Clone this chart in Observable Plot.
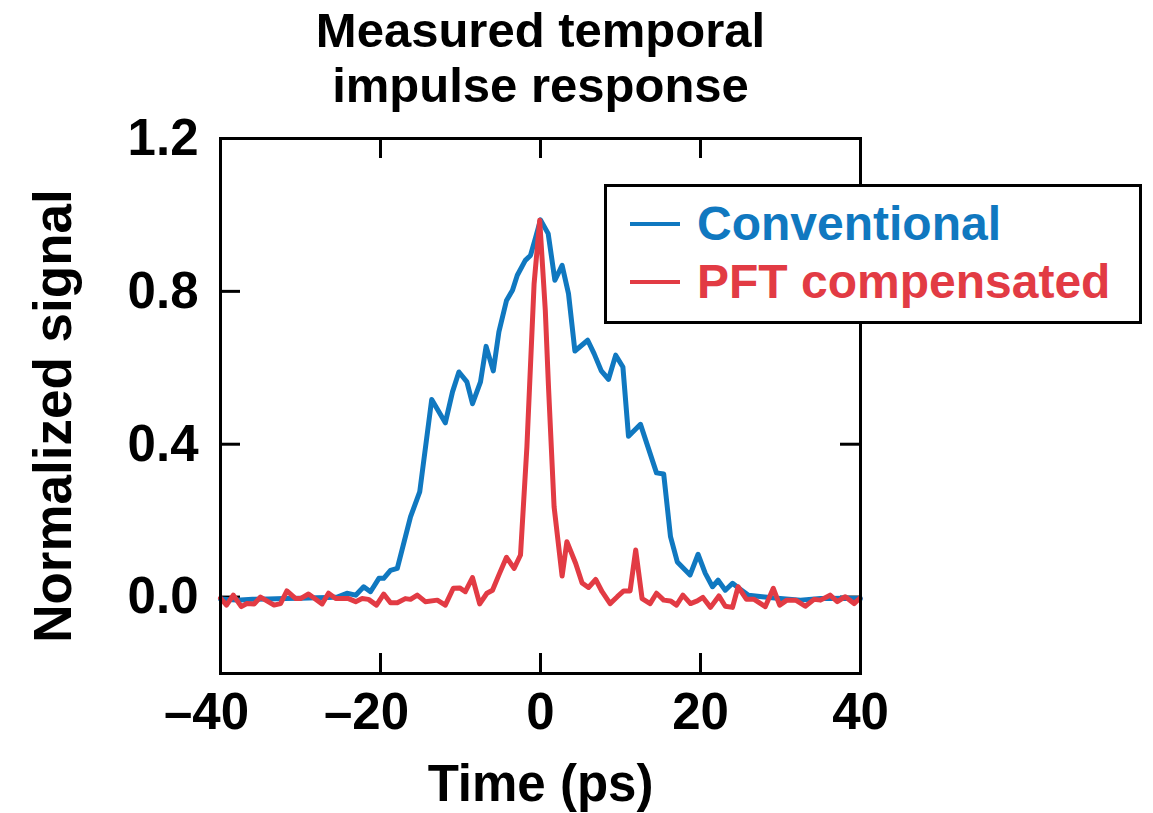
<!DOCTYPE html>
<html>
<head>
<meta charset="utf-8">
<script src="https://cdn.jsdelivr.net/npm/d3@7"></script>
<script src="https://cdn.jsdelivr.net/npm/@observablehq/plot@0.6"></script>
<style>
  html, body { margin: 0; padding: 0; background: #fff; }
  #wrap { position: relative; width: 1153px; height: 813px; font-family: "Liberation Sans", Arial, Helvetica, sans-serif; }
  #legend { position: absolute; left: 604px; top: 184px; }
</style>
</head>
<body>
<div id="wrap"></div>
<script>
// ---- data ----
const titleLines = ["Measured temporal", "impulse response"];
const xLabel = "Time (ps)";
const yLabel = "Normalized signal";
const seriesNames = ["Conventional", "PFT compensated"];
const seriesColors = ["#1078c0", "#e23b44"];
const xTicks = [-40, -20, 0, 20, 40];
const yTicks = [0.0, 0.4, 0.8, 1.2];

const convTime = [-40, -38, -36, -34, -32, -30, -28, -26.5, -25.4, -24.2, -23.1, -22.1, -21.25, -20.2, -19.6, -18.75, -17.9, -16.25, -15.1, -13.6, -11.9, -11.0, -10.2, -9.2, -8.5, -7.5, -6.8, -5.9, -5.2, -4.25, -3.5, -2.9, -1.9, -1.25, -0.6, 0, 0.96, 1.8, 2.7, 3.5, 4.3, 5.9, 6.7, 7.6, 8.5, 9.4, 10.3, 11.0, 12.5, 14.5, 15.4, 16.25, 17.1, 18.7, 19.7, 20.6, 21.5, 22.2, 23.1, 24.0, 24.8, 26.0, 27.7, 29.6, 32.5, 35, 38.3, 40];
const convSignal = [-0.005, -0.008, -0.006, -0.005, -0.004, -0.003, -0.002, -0.001, 0.0, 0.01, 0.005, 0.027, 0.014, 0.049, 0.049, 0.07, 0.075, 0.21, 0.275, 0.517, 0.456, 0.537, 0.589, 0.563, 0.506, 0.563, 0.656, 0.592, 0.694, 0.776, 0.803, 0.842, 0.881, 0.894, 0.942, 0.987, 0.951, 0.829, 0.868, 0.794, 0.644, 0.672, 0.637, 0.592, 0.570, 0.633, 0.602, 0.421, 0.452, 0.325, 0.322, 0.158, 0.092, 0.058, 0.112, 0.062, 0.027, 0.044, 0.018, 0.036, 0.023, 0.005, 0.001, -0.003, -0.008, -0.004, -0.003, -0.004];

const pftTime = [-40, -39.25, -38.4, -37.4, -36.7, -35.8, -35, -33.3, -32.5, -31.7, -30.6, -30, -29, -27.3, -26.5, -25.6, -24, -23.1, -22.3, -21.5, -20.5, -19.6, -18.75, -17.9, -16.9, -16.25, -15.4, -14.4, -12.9, -11.9, -10.9, -10.1, -9.4, -8.5, -7.6, -6.7, -6.0, -5.2, -4.25, -3.3, -2.5, -1.7, -0.8, -0.1, 0.6, 1.0, 1.7, 2.7, 3.3, 4.4, 5.2, 6.0, 6.9, 7.7, 8.7, 9.6, 10.4, 11.2, 11.9, 12.7, 13.7, 14.5, 15.4, 16.25, 17, 17.8, 18.75, 19.6, 20.3, 21.25, 22.3, 23.1, 24, 24.7, 25.75, 26.7, 28.1, 29.1, 29.9, 30.8, 31.9, 33.1, 34.2, 35, 36.2, 37.1, 38.1, 39.2, 39.9];
const pftSignal = [-0.003, -0.021, 0.005, -0.025, -0.017, -0.018, 0, -0.021, -0.017, 0.016, -0.004, -0.004, 0.008, -0.018, 0.01, -0.004, -0.004, -0.012, -0.004, -0.006, -0.021, 0.008, -0.015, -0.015, -0.004, -0.006, 0.005, -0.012, -0.008, -0.021, 0.023, 0.024, 0.014, 0.051, -0.018, 0.01, 0.018, 0.058, 0.104, 0.075, 0.11, 0.393, 0.82, 0.986, 0.75, 0.55, 0.236, 0.055, 0.145, 0.088, 0.037, 0.025, 0.046, 0.014, -0.017, 0.001, 0.016, 0.016, 0.123, -0.004, -0.017, 0.01, -0.008, -0.01, -0.021, 0.005, -0.017, -0.01, -0.001, -0.027, 0.003, -0.024, -0.027, 0.027, -0.006, -0.006, -0.025, 0.023, -0.021, -0.008, -0.008, -0.024, -0.006, -0.008, 0.005, -0.012, 0.001, -0.017, -0.003];

// ---- build ----
const conv = convTime.map((t, i) => ({t, v: convSignal[i], s: seriesNames[0]}));
const pft = pftTime.map((t, i) => ({t, v: pftSignal[i], s: seriesNames[1]}));

const W = 1153, H = 813;
const mL = 220, mR = 293, mT = 138, mB = 140;
const innerW = W - mL - mR, innerH = H - mT - mB;
const tickLen = 20;
const font = "Liberation Sans, Arial, Helvetica, sans-serif";
const fs = 51;
const titleFs = 49;
const sw = 3;
const fmtX = d => Math.abs(d).toString();
const fmtY = d3.format(".1f");

const plot = Plot.plot({
  width: W, height: H,
  marginLeft: mL, marginRight: mR, marginTop: mT, marginBottom: mB,
  style: {fontFamily: font, background: "white"},
  x: {domain: [-40, 40]},
  y: {domain: [-0.2, 1.2]},
  marks: [
    // inward ticks
    Plot.tickY(yTicks, {y: d => d, insetRight: innerW - tickLen, stroke: "black", strokeWidth: sw}),
    Plot.tickY(yTicks, {y: d => d, insetLeft: innerW - tickLen, stroke: "black", strokeWidth: sw}),
    Plot.tickX(xTicks, {x: d => d, insetTop: innerH - tickLen, stroke: "black", strokeWidth: sw}),
    Plot.tickX(xTicks, {x: d => d, insetBottom: innerH - tickLen, stroke: "black", strokeWidth: sw}),
    // tick labels
    Plot.axisY(yTicks, {anchor: "left", tickSize: 0, tickPadding: 22, tickFormat: fmtY, fontSize: fs, fontWeight: "bold", fill: "black", label: null}),
    Plot.axisX(xTicks.filter(d => d >= 0), {anchor: "bottom", tickSize: 0, tickPadding: 19, tickFormat: fmtX, fontSize: fs, fontWeight: "bold", fill: "black", label: null}),
    Plot.axisX(xTicks.filter(d => d < 0), {anchor: "bottom", tickSize: 0, tickPadding: 19, tickFormat: d => "\u2013" + fmtX(d), dx: -14, fontSize: fs, fontWeight: "bold", fill: "black", label: null}),
    // data lines
    Plot.line(conv, {x: "t", y: "v", stroke: seriesColors[0], strokeWidth: 5, strokeLinejoin: "round", curve: "linear"}),
    Plot.line(pft, {x: "t", y: "v", stroke: seriesColors[1], strokeWidth: 5, strokeLinejoin: "round", curve: "linear"}),
    // frame
    Plot.frame({stroke: "black", strokeWidth: sw}),
    // title (single multi-line text)
    Plot.text([titleLines.join("\n")], {text: d => d, frameAnchor: "top", lineAnchor: "bottom", lineHeight: 55 / titleFs, dy: 101 - mT, fontSize: titleFs, fontWeight: "bold", fill: "black"}),
    // axis labels
    Plot.text([xLabel], {text: d => d, frameAnchor: "bottom", lineAnchor: "bottom", dy: 800 - (H - mB), fontSize: fs, fontWeight: "bold", fill: "black"}),
    Plot.text([yLabel], {text: d => d, frameAnchor: "left", textAnchor: "middle", lineAnchor: "bottom", rotate: -90, dx: 70 - mL, dy: 10, fontSize: 53, fontWeight: "bold", fill: "black"})
  ]
});
document.getElementById("wrap").appendChild(plot);

// legend overlay
const lg = d3.select("#wrap").append("svg").attr("id", "legend")
  .attr("width", 540).attr("height", 142);
lg.append("rect").attr("x", 1.5).attr("y", 1.5).attr("width", 535).attr("height", 137)
  .attr("fill", "white").attr("stroke", "black").attr("stroke-width", 3);
seriesNames.forEach((name, i) => {
  const cy = 40 + i * 58;
  lg.append("line").attr("x1", 26).attr("x2", 76).attr("y1", cy).attr("y2", cy)
    .attr("stroke", seriesColors[i]).attr("stroke-width", 4);
  lg.append("text").attr("x", 93).attr("y", cy + 16)
    .attr("font-family", font).attr("font-size", 48).attr("font-weight", "bold")
    .attr("fill", seriesColors[i]).text(name);
});
</script>
</body>
</html>
